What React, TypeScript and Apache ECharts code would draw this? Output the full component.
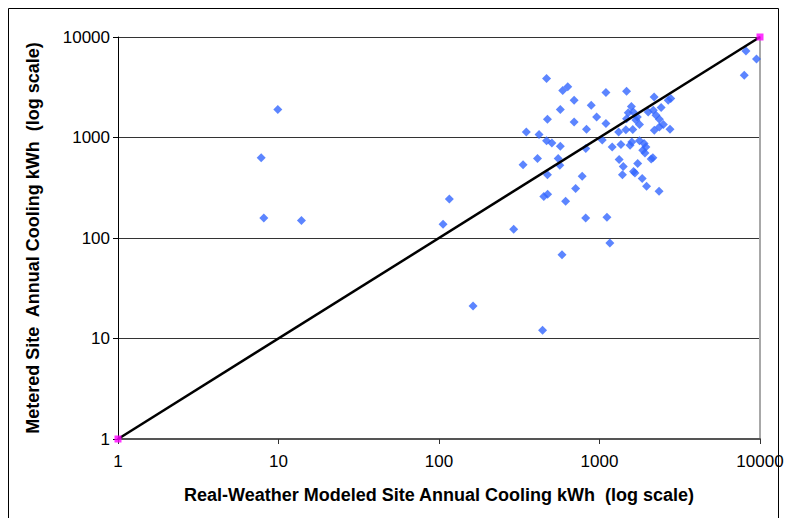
import React, { useEffect, useRef } from "react";
import * as echarts from "echarts";

// Real-weather modeled (x) vs metered (y) annual cooling kWh
const modeledKWh: number[] = [
  9.9, 7.8, 8.1, 13.9, 106, 116, 163, 442, 584, 292,
  1113, 1160, 820, 450, 475, 615, 710, 780, 474, 334,
  411, 553, 566, 468, 590, 634, 1097, 1475, 695, 570,
  888, 474, 695, 960, 1097, 830, 350, 420, 1316, 1460,
  1612, 468, 505, 570, 1040, 822, 1200, 1360, 1550, 1590,
  1775, 1895, 1945, 1860, 1920, 2150, 1325, 1406, 1730, 1390,
  1630, 1845, 1965, 2350, 2190, 2680, 2780, 1580, 2420, 1625,
  1475, 1720, 2010, 2165, 2250, 2360, 1775, 2195, 2360, 2500,
  2750, 7980, 8170, 9510, 1510, 1685, 1663, 2100,
];
const meteredKWh: number[] = [
  1900, 630, 158, 149, 137, 244, 21, 12.1, 68, 122,
  161, 89, 158, 259, 272, 232, 311, 411, 425, 537,
  617, 617, 529, 3855, 2940, 3200, 2800, 2880, 2345, 1900,
  2090, 1520, 1430, 1600, 1380, 1207, 1135, 1070, 1135, 1195,
  1200, 930, 880, 820, 945, 776, 805, 850, 837, 900,
  930, 870, 805, 746, 700, 630, 605, 515, 550, 425,
  460, 390, 327, 292, 2530, 2350, 2440, 2030, 1985, 1795,
  1540, 1600, 1795, 1865, 1665, 1515, 1345, 1180, 1275, 1345,
  1207, 4160, 7260, 6040, 1760, 1490, 443, 610,
];
// 1:1 reference line end points
const equalityLine: [number, number][] = [
  [1, 1],
  [10000, 10000],
];
const axisMin = 1;
const axisMax = 10000;
const xTitle = "Real-Weather Modeled Site Annual Cooling kWh  (log scale)";
const yTitle = "Metered Site  Annual Cooling kWh  (log scale)";

const FONT = 'Arial, "Liberation Sans", sans-serif';
const plainNumber = (v: number) => String(Math.round(v));

export default function App() {
  const ref = useRef<HTMLDivElement>(null);
  useEffect(() => {
    if (!ref.current) return;
    const chart = echarts.init(ref.current, undefined, { renderer: "svg" });
    const points = modeledKWh.map((x, i) => [x, meteredKWh[i]]);
    chart.setOption({
      animation: false,
      backgroundColor: "#ffffff",
      grid: {
        left: 118,
        right: 27,
        top: 37,
        bottom: 79,
        containLabel: false,
        outerBoundsMode: "none",
      },
      graphic: [
        {
          type: "rect",
          shape: { x: 8.5, y: 8.5, width: 770, height: 530 },
          style: { fill: "none", stroke: "#000", lineWidth: 1 },
          silent: true,
        },
      ],
      xAxis: {
        type: "log",
        logBase: 10,
        min: axisMin,
        max: axisMax,
        name: xTitle,
        nameLocation: "middle",
        nameGap: 47,
        nameTextStyle: { fontFamily: FONT, fontWeight: "bold", fontSize: 18, color: "#000" },
        axisLine: { show: true, onZero: false, lineStyle: { color: "#555", width: 2 } },
        axisTick: { show: true, inside: false, length: 5, lineStyle: { color: "#333" } },
        axisLabel: { fontFamily: FONT, fontSize: 17, color: "#000", margin: 14, formatter: plainNumber },
        splitLine: { show: false },
        minorTick: { show: false },
      },
      yAxis: [
        {
          type: "log",
          logBase: 10,
          min: axisMin,
          max: axisMax,
          name: yTitle,
          nameLocation: "middle",
          nameGap: 76,
          nameRotate: 90,
          nameTextStyle: { fontFamily: FONT, fontWeight: "bold", fontSize: 18, color: "#000" },
          axisLine: { show: true, onZero: false, lineStyle: { color: "#000", width: 1 } },
          axisTick: { show: true, inside: false, length: 5, lineStyle: { color: "#000" } },
          axisLabel: { fontFamily: FONT, fontSize: 17, color: "#000", margin: 8, formatter: plainNumber },
          splitLine: { show: true, lineStyle: { color: "#333", width: 1 } },
        },
        {
          type: "log",
          logBase: 10,
          min: axisMin,
          max: axisMax,
          position: "right",
          axisLine: { show: true, onZero: false, lineStyle: { color: "#a8a8a8", width: 2 } },
          axisTick: { show: false },
          axisLabel: { show: false },
          splitLine: { show: false },
        },
      ],
      series: [
        {
          type: "line",
          data: equalityLine,
          showSymbol: false,
          symbol: "none",
          lineStyle: { color: "#000", width: 2.5 },
          z: 3,
          silent: true,
        },
        {
          type: "scatter",
          data: points,
          symbol: "diamond",
          symbolSize: 9,
          itemStyle: { color: "#3366FF" },
          z: 2,
        },
        {
          type: "scatter",
          data: equalityLine,
          symbol: "rect",
          symbolSize: 7,
          itemStyle: { color: "#FF00FF" },
          z: 4,
        },
      ],
    });
    return () => chart.dispose();
  }, []);
  return (
    <div
      ref={ref}
      style={{ position: "fixed", left: 0, top: 0, width: 787, height: 518, background: "#fff" }}
    />
  );
}
